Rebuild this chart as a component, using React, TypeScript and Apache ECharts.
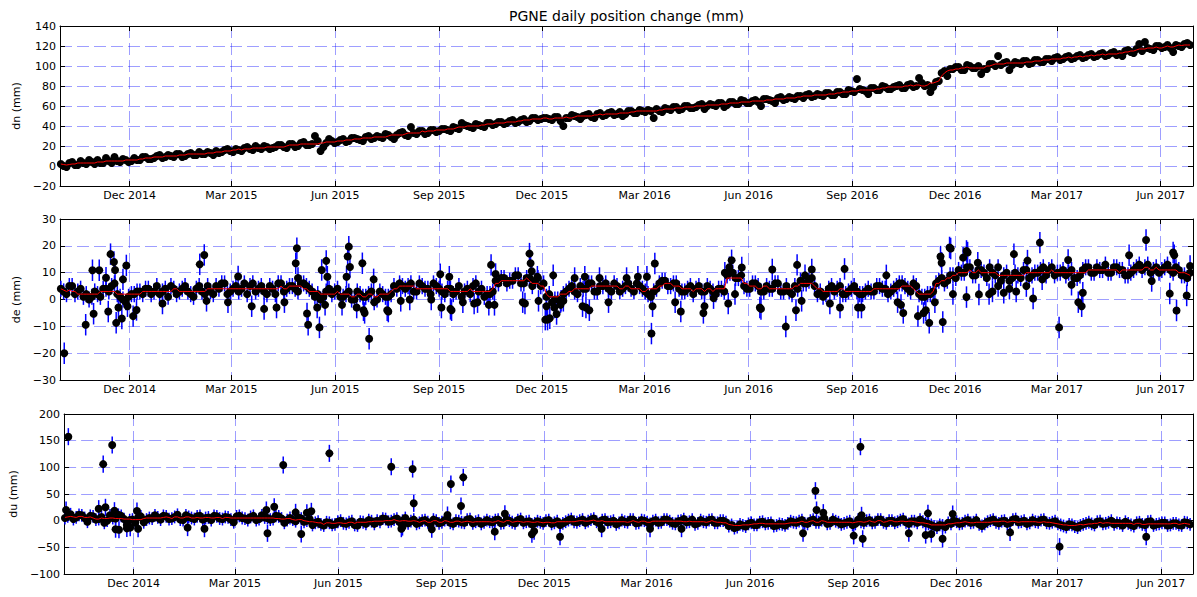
import React, { useEffect, useRef } from "react";
import * as echarts from "echarts";

// ---------- data ----------
const TITLE = "PGNE daily position change (mm)";
const START = "2014-10-01"; // first regular sample (set A)
const STEP_DAYS = 5; // each regular set is sampled every 5 days
const OFFSET_B_DAYS = 2.5; // set B sits half-way between the samples of set A
const X_MIN = "2014-09-30";
const X_MAX = "2017-06-30";

const tickDates = [
  "2014-12-01", "2015-03-01", "2015-06-01", "2015-09-01", "2015-12-01", "2016-03-01",
  "2016-06-01", "2016-09-01", "2016-12-01", "2017-03-01", "2017-06-01",
];
const tickLabels = [
  "Dec 2014", "Mar 2015", "Jun 2015", "Sep 2015", "Dec 2015", "Mar 2016",
  "Jun 2016", "Sep 2016", "Dec 2016", "Mar 2017", "Jun 2017",
];

const dnA = [
  2, -1, 4, 1, 3, 6, 2, 3, 8, 3, 5, 7, 4,
  8, 6, 9, 7, 10, 8, 11, 9, 12, 10, 13, 11, 12, 14, 11, 13, 16, 15,
  17, 15, 19, 16, 18, 20, 17, 19, 21, 18, 22, 20, 24, 21, 30, 15, 23, 25, 24,
  27, 25, 28, 26, 29, 27, 30, 28, 31, 27, 33, 31, 39, 32, 35, 33, 36, 35,
  37, 35, 38, 43, 40, 38, 41, 39, 43, 42, 44, 43, 46, 44, 47, 45, 48, 47,
  48, 46, 49, 40, 48, 50, 47, 51, 49, 52, 50, 53, 51, 54, 52, 55, 53, 55,
  56, 48, 55, 58, 56, 59, 57, 60, 58, 61, 57, 62, 60, 63, 61, 64, 62, 65, 63,
  66, 60, 67, 65, 68, 66, 69, 67, 70, 71, 69, 72, 70, 73, 71, 74, 72, 75,
  87, 76, 72, 78, 76, 79, 77, 80, 78, 81, 79, 88, 80, 74, 84,
  93, 90, 97, 99, 96, 100, 98, 92, 97, 102, 110, 103, 96, 104, 102, 105, 103, 106, 104, 107, 108,
  106, 109, 107, 110, 108, 111, 109, 112, 110, 113, 111, 110, 116, 113, 122, 124, 117, 120, 118,
  121, 114, 120, 122, 121,
];
const dnB = [
  0, 3, 1, 5, 2, 4, 6, 3, 5, 9, 4, 6, 5,
  6, 9, 7, 8, 11, 9, 10, 12, 9, 12, 11, 14, 12, 13, 15, 14, 17, 14,
  16, 18, 17, 20, 17, 19, 18, 21, 19, 22, 19, 23, 21, 22, 25, 19, 27, 23, 26,
  24, 28, 27, 25, 30, 28, 29, 32, 29, 31, 34, 30, 33, 35, 32, 36, 34, 37,
  36, 39, 37, 41, 39, 42, 40, 43, 41, 44, 42, 45, 43, 46, 44, 48, 46, 48,
  47, 49, 45, 48, 51, 49, 50, 52, 48, 53, 51, 54, 52, 50, 55, 53, 56, 54,
  55, 57, 54, 57, 59, 56, 60, 58, 59, 62, 60, 61, 63, 59, 64, 62, 66, 63, 65,
  64, 67, 66, 63, 69, 67, 68, 70, 68, 72, 70, 71, 73, 71, 74, 72, 76, 74,
  77, 75, 78, 76, 80, 77, 79, 81, 78, 82, 80, 83, 81, 79, 85,
  95, 97, 99, 96, 101, 98, 100, 97, 102, 100, 101, 104, 101, 103, 105, 102, 106, 104, 107, 105, 109,
  107, 110, 108, 111, 109, 112, 110, 113, 111, 114, 112, 115, 114, 117, 115, 118, 116, 120, 119,
  118, 121, 119, 123,
];

const deA = [
  4, 2, 5, 3, 1, 0, 3, 1, 4, 5, 2, 0, 1, 2, 3, 4, 2, 5, 3, 1, 4, 3, 5, 2, 4, 3,
  5, 2, 4, 6, 3, 5, 4, 2, 6, 4, 3, 5, 2, 6, 4,
  5, 3, 6, 4, 1, 0, 3, 2, 4,
  1, 3, 0, 2, 1, 3, 0, 2, 1, 5, 6,
  4, 6, 3, 5, 4, 6, 4, 2, 4, 3, 1, 4, 5, 3, 1, 2,
  7, 8, 6, 7, 9, 6, 8, 7, 5, 1, -1, 0, 2, 4, 3,
  5, 4, 6, 3, 5, 4, 6, 3, 5, 4, 6, 4, 2, 3,
  6, 7, 5, 6, 3, 4, 2, 5, 3, 4, 2, 4, 9, 10, 8,
  5, 4, 6, 3, 5, 4, 6, 3, 3,
  5, 7, 6, 8, 2, 1, 4, 3, 5, 2, 4, 3, 2,
  4, 3, 5, 4, 3, 5, 6, 4, 6, 2, 1, 2,
  6, 8, 7, 9, 11, 10, 12, 9, 11, 8, 10, 12,
  9, 7, 10, 8, 11, 9, 10, 12, 11, 9, 10,
  9, 11, 8, 11, 12, 10, 11, 13, 10, 12, 11, 9,
  11, 13, 12, 10, 12, 11, 13, 10, 11, 9, 10,
];
const deB = [
  3, 5, 2, 4, 2, 1, 2, 4, 3, 6, 1, -1, 2, 3, 2, 4, 3, 2, 4, 5, 2, 4, 3, 1, 5, 2,
  3, 5, 6, 2, 4, 3, 6, 5, 3, 5, 2, 4, 6, 3, 5,
  4, 6, 5, 3, 2, 1, 4, 3, 1,
  2, 0, 3, 1, 2, -1, 3, 1, 2, 4, 5,
  5, 3, 6, 4, 2, 5, 3, 4, 2, 5, 3, 2, 6, 4, 2, 3,
  6, 8, 7, 9, 6, 8, 5, 8, 6, 2, 0, -2, 3, 5, 2,
  4, 6, 3, 5, 6, 3, 5, 4, 6, 3, 5, 3, 1, 4,
  7, 5, 6, 4, 3, 5, 4, 3, 5, 3, 4, 3, 10, 8, 9,
  4, 6, 5, 3, 4, 6, 3, 5, 2,
  4, 6, 7, 5, 3, 2, 5, 4, 2, 3, 5, 2, 3,
  3, 5, 4, 2, 4, 6, 5, 3, 5, 1, 2, 3,
  7, 6, 9, 8, 10, 12, 9, 11, 10, 12, 9, 7,
  10, 8, 9, 11, 8, 10, 11, 9, 12, 10, 11,
  10, 8, 9, 12, 10, 12, 11, 10, 12, 11, 9, 10,
  12, 11, 13, 11, 10, 12, 11, 12, 9, 8,
];

const duA = [
  5, 12, 6, 10, -2, 8, 3, -4, 10, 4, 9, -8, 2, 6, -3, 5,
  10, 2, 8, 4, 11, 1, 7, 3, 9, 5, 1,
  8, 3, 6, -3, 9, 4, 7, 1, 10, 5, 3, 8, -4,
  5, -1, 4, 0, -8, -2, -9, -4, -7, 0, -6, -1, -9, -3, 1, -6, -2, 3, -1, 4, 0,
  -5, 2, -4, 1, -7, 0, -3, 2, -6, -1, -4, 3, -2, -6, 1, -3, 2, -4, 0, -5, 3, -2, -7,
  -1, -5, 1, -4, -8, -2, 3, -3, 2, -1, 4, -5, 2, -2, -7, 1, -3, 2, -4, 0,
  -6, 1, -3, 2, -5, -1, 3, -2, -7, 1, -3, 2, -4, 0, -10, -14, -7, -11, -4, -8,
  -2, -5, -10, -6, -9, -1,
  -4, 1, -6, 2, -3, 4, -5, -1, -7, -3, -8, 2, -4, 1, -3, 2, -5, 0, -2, 3,
  -6, -1, 2, -5, -8, -13, -9, -4, 0, -6, -1, -4, 1, -10, -2, 2, -5, 0, -4, 3,
  -2, -6, 1, -3, 2, -5, -1, -8, -12, -8, -13, -7, -3, -8, -1, -5, 0, -4, -9, -5,
  -10, -3, -8, -1, -7, -4, -9, -5, -8, -3, -7,
];
const duB = [
  8, 3, 11, 5, 9, 2, 7, 0, 5, 11, 3, 1, -4, 8, 2, 4,
  6, 9, 3, 7, 2, 10, 5, 8, 2, 6, 9,
  4, 7, 2, 8, 5, 1, 9, 3, 6, 2, 9, 4, 1,
  2, 6, -2, 3, -4, -7, -3, -8, -2, -5, -3, -8, -2, -6, -1, 0, 4, -2, 2, -3, 5,
  -1, -6, 0, -3, 2, -5, 1, -4, 0, -3, 2, -5, 0, -3, -2, 1, -5, 2, -3, 1, -4, -1, -5,
  -3, 0, -6, -1, -5, 1, -2, 0, -4, 2, -2, 1, -3, 0, -4, -2, 2, -5, 1, -3,
  -1, -4, 2, -1, -6, 0, -3, 2, -5, -2, 1, -4, 0, -3, -8, -12, -9, -6, -8, -3,
  -6, -4, -9, -7, -5, -3,
  -1, -5, 0, -3, 1, -6, 2, -3, -5, -1, -6, -2, 0, -4, 2, -3, 0, -4, 1, -3,
  -1, -4, -2, -6, -11, -8, -12, -6, -2, -5, 1, -3, -7, -6, 0, -3, -1, -6, 2, -3,
  0, -4, -2, 1, -4, -3, -6, -10, -7, -11, -9, -5, -6, -2, -6, -3, -7, -5, -2, -8,
  -4, -7, -2, -9, -6, -4, -8, -5, -9, -4,
];

const deOutliers: [string, number][] = [
  ["2014-10-04", -20], ["2014-10-23", -9.4], ["2014-10-29", 10.9], ["2014-10-30", -5.3],
  ["2014-11-04", 10.9], ["2014-11-10", 8.1], ["2014-11-12", -4.5], ["2014-11-14", 16.9],
  ["2014-11-17", 14], ["2014-11-18", 11], ["2014-11-19", -8.7], ["2014-11-21", -3],
  ["2014-11-24", -7.1], ["2014-11-25", 7.5], ["2014-11-28", 12.7], ["2014-11-29", -2.5],
  ["2014-12-04", -6.2], ["2014-12-07", -3.9], ["2014-12-30", -1.5], ["2015-02-01", 13.1],
  ["2015-02-05", 16.6], ["2015-02-07", -0.5], ["2015-02-26", -1], ["2015-03-07", 8.6],
  ["2015-03-19", -2.5], ["2015-03-30", -3.5], ["2015-04-10", -3], ["2015-04-17", -1],
  ["2015-04-27", 13.5], ["2015-04-28", 19.1], ["2015-04-29", 8], ["2015-05-07", -5.2],
  ["2015-05-08", -9.4], ["2015-05-16", -3], ["2015-05-18", -10.4], ["2015-05-20", 11],
  ["2015-05-23", -2], ["2015-05-24", 14.4], ["2015-05-25", 8.5], ["2015-06-07", -2],
  ["2015-06-11", 8.5], ["2015-06-12", 16], ["2015-06-13", 19.7], ["2015-06-14", 12.1],
  ["2015-06-20", -3], ["2015-06-25", 13.5], ["2015-06-26", -4], ["2015-06-27", -5],
  ["2015-07-01", -14.6], ["2015-07-05", 7.5], ["2015-07-17", -4], ["2015-07-18", -4.5],
  ["2015-07-29", -0.5], ["2015-08-06", 0], ["2015-08-25", 0], ["2015-09-02", 9.4],
  ["2015-09-03", -3], ["2015-09-10", 8.5], ["2015-09-11", -3.5], ["2015-09-12", -4],
  ["2015-09-22", -1], ["2015-10-02", -1.5], ["2015-10-05", -1], ["2015-10-15", -2],
  ["2015-10-17", 12.9], ["2015-10-20", -2], ["2015-10-21", 9.5], ["2015-11-14", -1],
  ["2015-11-16", -1.5], ["2015-11-20", 17.1], ["2015-11-21", 13.5], ["2015-11-22", 10.5],
  ["2015-11-27", 8.5], ["2015-11-28", -0.5], ["2015-12-04", -7.5], ["2015-12-05", -2.5],
  ["2015-12-06", -7.5], ["2015-12-08", -7], ["2015-12-11", 9], ["2015-12-12", -3],
  ["2015-12-14", -5.4], ["2015-12-18", -0.5], ["2015-12-20", -0.5], ["2015-12-30", 8],
  ["2016-01-06", -2.5], ["2016-01-08", 8.5], ["2016-01-09", -3], ["2016-01-12", -4],
  ["2016-01-21", 8], ["2016-01-29", -1], ["2016-02-14", 8], ["2016-02-24", 8.5],
  ["2016-03-03", 8.5], ["2016-03-07", -12.7], ["2016-03-08", -2.5], ["2016-03-10", 13.4],
  ["2016-03-28", -1], ["2016-04-02", -4.5], ["2016-04-22", -5], ["2016-04-23", -2.5],
  ["2016-05-01", 0.5], ["2016-05-11", 10], ["2016-05-14", -1.5], ["2016-05-15", 12],
  ["2016-05-17", 14.6], ["2016-05-20", 2], ["2016-05-26", 11.9], ["2016-06-11", -3],
  ["2016-06-12", -3.5], ["2016-06-22", 11.2], ["2016-07-04", -10.1], ["2016-07-13", -4],
  ["2016-07-14", 12.9], ["2016-07-18", -0.5], ["2016-07-21", 9], ["2016-07-27", 11.2],
  ["2016-08-12", -1.5], ["2016-08-21", -3], ["2016-08-25", 11.4], ["2016-09-06", -3],
  ["2016-09-09", -3], ["2016-10-01", 9], ["2016-10-11", -1], ["2016-10-14", -2],
  ["2016-10-16", -5], ["2016-10-29", -6.2], ["2016-11-03", -5], ["2016-11-05", -4],
  ["2016-11-08", -8.7], ["2016-11-13", -1], ["2016-11-18", 16], ["2016-11-19", 13.7],
  ["2016-11-20", -8.4], ["2016-11-26", 19.4], ["2016-11-27", 19], ["2016-11-29", 2],
  ["2016-12-08", 15.6], ["2016-12-11", 18.1], ["2016-12-11", 0.9], ["2016-12-12", 17.5],
  ["2016-12-21", 13.7], ["2016-12-22", 1.9], ["2016-12-31", 2], ["2017-01-03", 3],
  ["2017-01-08", 5], ["2017-01-13", 2.5], ["2017-01-18", 4], ["2017-01-22", 16.9],
  ["2017-01-24", 3], ["2017-02-02", 5], ["2017-02-03", 14.5], ["2017-02-08", 0.4],
  ["2017-02-14", 21.2], ["2017-02-16", 7.5], ["2017-03-03", -10.4], ["2017-03-11", 14.7],
  ["2017-03-14", 5.5], ["2017-03-20", -1], ["2017-03-23", -2.5], ["2017-03-24", 2.5],
  ["2017-05-04", 16.5], ["2017-05-19", 22.2], ["2017-05-24", 6.9], ["2017-06-09", 2.2],
  ["2017-06-12", 17.5], ["2017-06-13", 16.5], ["2017-06-15", -4.1], ["2017-06-24", 1.5],
  ["2017-06-27", 12.5],
];

const duOutliers: [string, number][] = [
  ["2014-10-02", 20], ["2014-10-04", 157.5], ["2014-10-31", 22.5], ["2014-11-04", 106],
  ["2014-11-06", 25], ["2014-11-12", 142], ["2014-11-14", 18.7], ["2014-11-15", -16],
  ["2014-11-18", -17], ["2014-11-25", -14.4], ["2014-11-28", -13], ["2014-12-04", 18],
  ["2014-12-05", -15], ["2015-01-18", -13], ["2015-02-02", -15], ["2015-03-29", 20],
  ["2015-03-30", -23.7], ["2015-04-05", 26], ["2015-04-13", 104.4], ["2015-04-24", 15.6],
  ["2015-04-29", -25], ["2015-05-04", 15], ["2015-05-08", 17.5], ["2015-05-24", 126.2],
  ["2015-07-18", 101.2], ["2015-07-27", -15], ["2015-07-28", -12], ["2015-08-06", 96.9],
  ["2015-08-07", 32.5], ["2015-08-23", -16], ["2015-09-06", 10.6], ["2015-09-09", 68.7],
  ["2015-09-18", 27.5], ["2015-09-20", 81.2], ["2015-10-18", -20.6], ["2015-10-27", 13],
  ["2015-11-20", -25.6], ["2015-11-22", -20], ["2015-12-15", -30], ["2016-01-21", -15],
  ["2016-03-04", -15], ["2016-04-01", -15], ["2016-07-18", -23.7], ["2016-07-29", 56.2],
  ["2016-07-30", 20], ["2016-08-05", 15], ["2016-09-01", -28], ["2016-09-07", 138.7],
  ["2016-09-08", 10], ["2016-09-09", -34], ["2016-10-20", -23.7], ["2016-11-04", -27],
  ["2016-11-06", 13.7], ["2016-11-09", -25], ["2016-11-19", -34], ["2016-11-28", 12.5],
  ["2017-01-18", -22], ["2017-03-03", -48.7], ["2017-05-19", -30],
];

// one-sigma error bar half-lengths (mm)
const dnSigma = 2.5;
const deSigma = 3;
const deOutlierSigma = 4;
const duSigma = 12;
const duOutlierSigma = 16;

// ---------- helpers ----------
const DAY = 86400000;
const toTime = (s: string) => {
  const [y, m, d] = s.split("-").map(Number);
  return Date.UTC(y, m - 1, d);
};
const startT = toTime(START);
// interleave set A (every 5 days) and set B (offset by 2.5 days) in time order
const merged = (a: number[], b: number[]) => {
  const out: number[][] = [];
  a.forEach((v, i) => {
    out.push([startT + i * STEP_DAYS * DAY, v]);
    if (i < b.length) out.push([startT + (i * STEP_DAYS + OFFSET_B_DAYS) * DAY, b[i]]);
  });
  return out;
};
const runningMedian = (pts: number[][], half: number) =>
  pts.map((p, i) => {
    const w = pts
      .slice(Math.max(0, i - half), Math.min(pts.length, i + half + 1))
      .map((q) => q[1])
      .sort((x, y) => x - y);
    const n = w.length;
    const med = n % 2 ? w[(n - 1) / 2] : (w[n / 2 - 1] + w[n / 2]) / 2;
    return [p[0], med];
  });

const FONT = "'DejaVu Sans', sans-serif";
const GRID_COLOR = "rgba(0,0,255,0.38)";

export default function App() {
  const ref = useRef<HTMLDivElement>(null);

  useEffect(() => {
    if (!ref.current) return;
    const chart = echarts.init(ref.current, undefined, { renderer: "svg" });

    const tickTimes = tickDates.map(toTime);
    const xMin = toTime(X_MIN) + 6 * 3600000;
    const xMax = toTime(X_MAX) - 10 * 3600000;

    const panels = [
      { name: "dn (mm)", a: dnA, b: dnB, out: [] as [string, number][], sig: dnSigma, osig: dnSigma, min: -20, max: 140, interval: 20 },
      { name: "de (mm)", a: deA, b: deB, out: deOutliers, sig: deSigma, osig: deOutlierSigma, min: -30, max: 30, interval: 10 },
      { name: "du (mm)", a: duA, b: duB, out: duOutliers, sig: duSigma, osig: duOutlierSigma, min: -100, max: 200, interval: 50 },
    ];
    const layout = [
      { top: 26, height: 160 },
      { top: 219, height: 161 },
      { top: 414, height: 160 },
    ];

    const fmtY = (v: number) => (v < 0 ? "\u2212" + Math.abs(v) : String(v));
    const fmtX = (v: number) => {
      const idx = tickTimes.indexOf(v);
      return idx >= 0 ? tickLabels[idx] : "";
    };

    const grid: any[] = [];
    const xAxis: any[] = [];
    const yAxis: any[] = [];
    const series: any[] = [];

    panels.forEach((p, k) => {
      grid.push({ left: 60, width: 1133, top: layout[k].top, height: layout[k].height });
      const axisLine = { show: true, onZero: false, lineStyle: { color: "#000", width: 1 } };
      const tick = { show: true, inside: true, length: 5, lineStyle: { color: "#000", width: 1 } };
      xAxis.push({
        type: "value", gridIndex: k, position: "bottom", min: xMin, max: xMax,
        axisLine,
        axisTick: { ...tick, customValues: tickTimes },
        axisLabel: { show: true, customValues: tickTimes, formatter: fmtX, fontSize: 11, fontFamily: FONT, color: "#000", margin: 4 },
        splitLine: { show: true, lineStyle: { color: GRID_COLOR, type: [12, 5], width: 1 } },
      });
      xAxis.push({
        type: "value", gridIndex: k, position: "top", min: xMin, max: xMax,
        axisLine,
        axisTick: { ...tick, customValues: tickTimes },
        axisLabel: { show: false },
        splitLine: { show: false },
      });
      yAxis.push({
        type: "value", gridIndex: k, position: "left", min: p.min, max: p.max, interval: p.interval,
        name: p.name, nameLocation: "middle", nameGap: 26,
        nameTextStyle: { fontSize: 11, fontFamily: FONT, color: "#000" },
        axisLine, axisTick: tick,
        axisLabel: { fontSize: 11, fontFamily: FONT, color: "#000", margin: 4, formatter: fmtY },
        splitLine: { show: true, lineStyle: { color: GRID_COLOR, type: [12, 5], width: 1 } },
      });
      yAxis.push({
        type: "value", gridIndex: k, position: "right", min: p.min, max: p.max, interval: p.interval,
        axisLine, axisTick: tick, axisLabel: { show: false }, splitLine: { show: false },
      });

      const reg = merged(p.a, p.b);
      const outPts = p.out.map(([d, v]) => [toTime(d), v]);
      const errData = [
        ...reg.map(([t, v]) => [t, v, p.sig]),
        ...outPts.map(([t, v]) => [t, v, p.osig]),
      ];

      series.push({
        type: "custom", xAxisIndex: 2 * k, yAxisIndex: 2 * k, clip: true, z: 2,
        data: errData, encode: { x: 0, y: 1 },
        renderItem: (_params: any, api: any) => {
          const t = api.value(0), v = api.value(1), e = api.value(2);
          const a = api.coord([t, v - e]);
          const b = api.coord([t, v + e]);
          return {
            type: "line",
            shape: { x1: a[0], y1: a[1], x2: b[0], y2: b[1] },
            style: { stroke: "#0000ff", lineWidth: 1.5 },
          };
        },
        silent: true,
      });
      series.push({
        type: "scatter", xAxisIndex: 2 * k, yAxisIndex: 2 * k, z: 3,
        data: [...reg, ...outPts], symbol: "circle", symbolSize: 8,
        itemStyle: { color: "#000", opacity: 1 }, silent: true, clip: true,
      });
      series.push({
        type: "line", xAxisIndex: 2 * k, yAxisIndex: 2 * k, z: 4,
        data: runningMedian(reg, 4), showSymbol: false, symbol: "none",
        lineStyle: { color: "#ff0000", width: 1 }, silent: true,
      });
    });

    chart.setOption({
      animation: false,
      backgroundColor: "#fff",
      textStyle: { fontFamily: FONT },
      grid, xAxis, yAxis, series,
      graphic: [
        {
          type: "text", x: 626.5, y: 16,
          style: { text: TITLE, fontSize: 14, fontFamily: FONT, fill: "#000", align: "center", verticalAlign: "middle", textAlign: "center", textVerticalAlign: "middle" },
        },
      ],
    });

    return () => chart.dispose();
  }, []);

  return <div ref={ref} style={{ position: "absolute", left: 0, top: 0, width: 1197, height: 597 }} />;
}
